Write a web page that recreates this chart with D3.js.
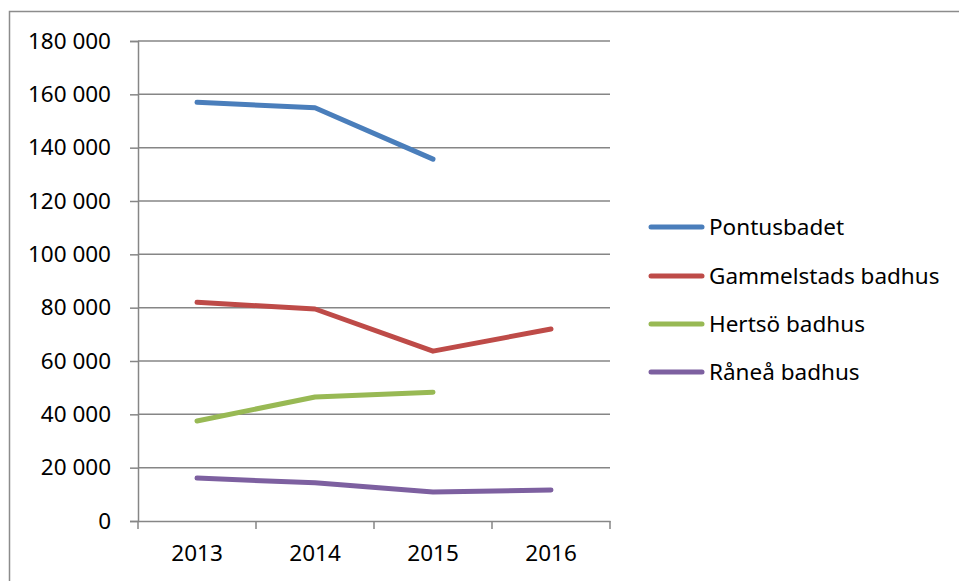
<!DOCTYPE html>
<html>
<head>
<meta charset="utf-8">
<script src="https://cdn.jsdelivr.net/npm/d3@7"></script>
<style>
  html, body { margin: 0; padding: 0; background: #fff; }
  svg { display: block; }
  text { font-family: "Noto Sans", "Open Sans", sans-serif; fill: #000; }
</style>
</head>
<body>
<svg id="chart" width="959" height="581"></svg>
<script>
const years = ["2013", "2014", "2015", "2016"];
const seriesNames = ["Pontusbadet", "Gammelstads badhus", "Hertsö badhus", "Råneå badhus"];
const pontusbadet = [157000, 155000, 135700, null];
const gammelstads = [82000, 79500, 63700, 72000];
const hertso = [37500, 46500, 48300, null];
const ranea = [16100, 14300, 10900, 11600];
const yTicks = [0, 20000, 40000, 60000, 80000, 100000, 120000, 140000, 160000, 180000];
const colors = ["#4A7EBB", "#BE4B48", "#98B954", "#7D60A0"];

const seriesValues = [pontusbadet, gammelstads, hertso, ranea];

const svg = d3.select("#chart");

// outer border
svg.append("rect")
  .attr("x", 9.5).attr("y", 11.5)
  .attr("width", 1000).attr("height", 1000)
  .attr("fill", "none").attr("stroke", "#8c8c8c").attr("stroke-width", 1.5);

const pLeft = 138, pRight = 610, pTop = 41, pBottom = 521;

const x = d3.scaleBand().domain(years).range([pLeft, pRight]).padding(0);
const y = d3.scaleLinear().domain([0, 180000]).range([pBottom, pTop]);

const fmt = v => d3.format(",")(v).replace(/,/g, " ");

// gridlines
svg.append("g").selectAll("line")
  .data(yTicks.filter(t => t > 0))
  .join("line")
  .attr("x1", pLeft).attr("x2", pRight)
  .attr("y1", d => y(d)).attr("y2", d => y(d))
  .attr("stroke", "#868686").attr("stroke-width", 1.5);

// y axis
const yAxis = svg.append("g")
  .attr("transform", `translate(${pLeft},0)`)
  .call(d3.axisLeft(y).tickValues(yTicks).tickFormat(fmt).tickSize(8).tickPadding(19));
yAxis.select(".domain").attr("stroke", "#868686").attr("stroke-width", 1.5);
yAxis.selectAll(".tick line").attr("stroke", "#868686").attr("stroke-width", 1.5);
yAxis.selectAll("text").style("font-size", "22.5px").attr("fill", "#000");

// x axis
const xAxis = svg.append("g")
  .attr("transform", `translate(0,${pBottom})`)
  .call(d3.axisBottom(x).tickSize(0).tickPadding(24));
xAxis.select(".domain").attr("stroke", "#868686").attr("stroke-width", 1.5);
xAxis.selectAll("text").style("font-size", "22.5px").attr("fill", "#000");
// boundary ticks
xAxis.append("g").selectAll("line")
  .data(years.map(d => x(d)).concat([pRight]))
  .join("line")
  .attr("x1", d => d).attr("x2", d => d)
  .attr("y1", 0).attr("y2", 8)
  .attr("stroke", "#868686").attr("stroke-width", 1.5);

// lines
const line = d3.line()
  .defined(d => d.v !== null)
  .x(d => x(d.year) + x.bandwidth() / 2)
  .y(d => y(d.v));

seriesValues.forEach((vals, i) => {
  svg.append("path")
    .datum(years.map((yr, j) => ({ year: yr, v: vals[j] })))
    .attr("d", line)
    .attr("fill", "none")
    .attr("stroke", colors[i])
    .attr("stroke-width", 5)
    .attr("stroke-linecap", "round")
    .attr("stroke-linejoin", "round");
});

// legend
const legY = [227, 276, 324, 372];
const leg = svg.append("g");
seriesNames.forEach((name, i) => {
  leg.append("line")
    .attr("x1", 651).attr("x2", 702)
    .attr("y1", legY[i]).attr("y2", legY[i])
    .attr("stroke", colors[i]).attr("stroke-width", 5)
    .attr("stroke-linecap", "round");
  leg.append("text")
    .attr("x", 709).attr("y", legY[i])
    .attr("dy", "0.35em")
    .style("font-size", "22.5px")
    .text(name);
});
</script>
</body>
</html>
